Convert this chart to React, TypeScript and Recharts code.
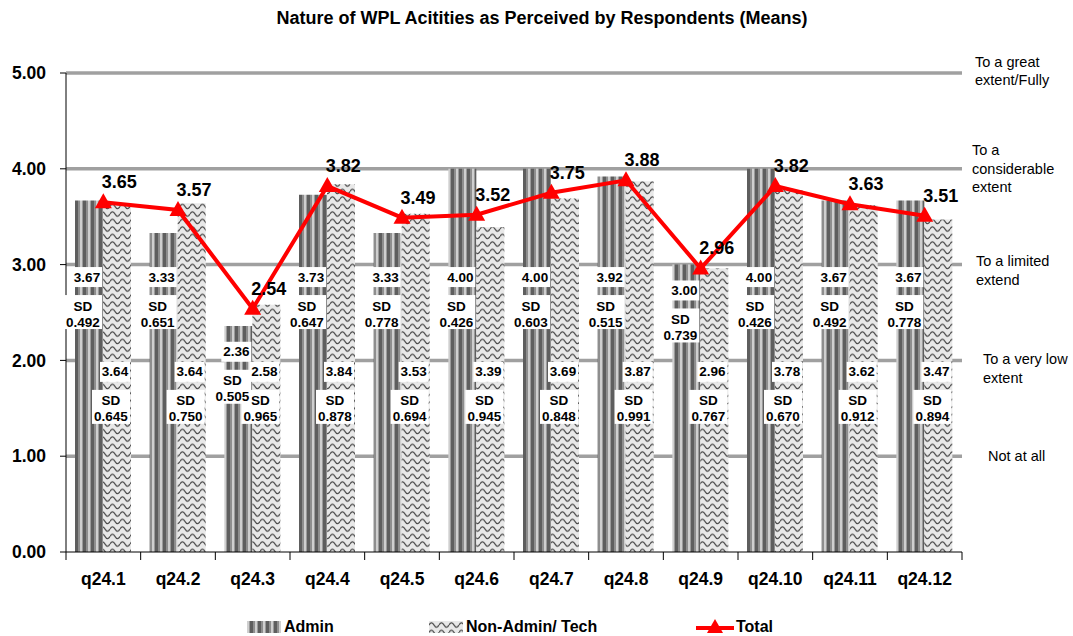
import React from 'react';
import { ComposedChart, Bar, Line, XAxis, YAxis, CartesianGrid, LabelList } from 'recharts';

const categories = ['q24.1', 'q24.2', 'q24.3', 'q24.4', 'q24.5', 'q24.6', 'q24.7', 'q24.8', 'q24.9', 'q24.10', 'q24.11', 'q24.12'];
const adminMeans = [3.67, 3.33, 2.36, 3.73, 3.33, 4.0, 4.0, 3.92, 3.0, 4.0, 3.67, 3.67];
const adminSD = [0.492, 0.651, 0.505, 0.647, 0.778, 0.426, 0.603, 0.515, 0.739, 0.426, 0.492, 0.778];
const nonAdminMeans = [3.64, 3.64, 2.58, 3.84, 3.53, 3.39, 3.69, 3.87, 2.96, 3.78, 3.62, 3.47];
const nonAdminSD = [0.645, 0.75, 0.965, 0.878, 0.694, 0.945, 0.848, 0.991, 0.767, 0.67, 0.912, 0.894];
const totalMeans = [3.65, 3.57, 2.54, 3.82, 3.49, 3.52, 3.75, 3.88, 2.96, 3.82, 3.63, 3.51];
const yTicks = [0, 1, 2, 3, 4, 5];
const scaleTicks = [1, 2, 3, 4, 5];
const scaleLabels: Record<number, string[]> = {
  5: ['To a great', 'extent/Fully'],
  4: ['To a', 'considerable', 'extent'],
  3: ['To a limited', 'extend'],
  2: ['To a very low', 'extent'],
  1: ['Not at all'],
};
const title = 'Nature of WPL Acitities as Perceived by Respondents (Means)';
const seriesNames = ['Admin', 'Non-Admin/ Tech', 'Total'];

const data = categories.map((c, i) => ({
  name: c,
  admin: adminMeans[i],
  nonAdmin: nonAdminMeans[i],
  total: totalMeans[i],
}));

const FONT = '"Liberation Sans", Arial, Helvetica, sans-serif';

// layout tweaks for the right-hand scale captions
const scaleOffsets: Record<number, { dx: number; dy: number }> = {
  5: { dx: 13, dy: -2 },
  4: { dx: 10, dy: 0 },
  3: { dx: 14, dy: 6 },
  2: { dx: 21, dy: 8 },
  1: { dx: 26, dy: 0 },
};

const adminAnchor = (v: number) => Math.min(2.87, v - 0.27);
const nonAdminAnchor = (v: number) => Math.min(1.88, v - 0.5);

const txtStyle = {
  fontFamily: FONT,
  fontWeight: 700,
  fontSize: 13.5,
  fill: '#000',
  textAnchor: 'middle' as const,
  dominantBaseline: 'central' as const,
};

const LabelBox = ({ cx, cy, v, sd }: { cx: number; cy: number; v: number; sd: number }) => (
  <g>
    <rect x={cx - 2 - 15} y={cy - 10} width={30} height={20} fill="#fff" />
    <text x={cx - 2} y={cy} {...txtStyle}>{v.toFixed(2)}</text>
    <rect x={cx - 6 - 19} y={cy + 18} width={38} height={34} fill="#fff" />
    <text x={cx - 6} y={cy + 29} {...txtStyle}>SD</text>
    <text x={cx - 6} y={cy + 45} {...txtStyle}>{sd.toFixed(3)}</text>
  </g>
);

// Drawn from the second bar series so all boxes sit on top of both bars
const barLabels = (props: any) => {
  const { x, y, width, height, value, index } = props;
  const v = Number(value);
  const w = Number(width);
  const bottom = Number(y) + Number(height);
  const ppu = Number(height) / v;
  const nonCx = Number(x) + w / 2;
  const adminCx = nonCx - w;
  const av = adminMeans[index];
  return (
    <g key={`bl-${index}`}>
      <LabelBox cx={nonCx} cy={bottom - nonAdminAnchor(v) * ppu} v={v} sd={nonAdminSD[index]} />
      <LabelBox cx={adminCx} cy={bottom - adminAnchor(av) * ppu} v={av} sd={adminSD[index]} />
    </g>
  );
};

const totalLabel = (p: any) => (
  <text
    key={`tl-${p.index}`}
    x={Number(p.x) + 16}
    y={Number(p.y) - 20}
    textAnchor="middle"
    dominantBaseline="central"
    fontFamily={FONT}
    fontWeight={700}
    fontSize={18}
    fill="#000"
  >
    {Number(p.value).toFixed(2)}
  </text>
);

const triangleDot = (p: any) => {
  const { cx, cy, index } = p;
  if (cx == null || cy == null) return <g key={`td-${index}`} />;
  return <path key={`td-${index}`} d={`M${cx},${cy - 9} L${cx + 8.5},${cy + 6} L${cx - 8.5},${cy + 6} Z`} fill="#ff0000" />;
};

const XTick = (props: any) => {
  const { x, y, payload, index } = props;
  const half = payload && typeof payload.offset === 'number' && payload.offset > 0 ? payload.offset : 37.33;
  const last = index === categories.length - 1;
  return (
    <g>
      <line x1={x - half} x2={x - half} y1={y} y2={y + 8} stroke="#000" strokeWidth={1} />
      {last && <line x1={x + half} x2={x + half} y1={y} y2={y + 8} stroke="#000" strokeWidth={1} />}
      <text x={x} y={y + 27} textAnchor="middle" dominantBaseline="central" fontFamily={FONT} fontWeight={700} fontSize={17.5} fill="#000">
        {payload.value}
      </text>
    </g>
  );
};

const RightTick = (props: any) => {
  const { x, y, payload } = props;
  const v = Number(payload.value);
  const lines = scaleLabels[v] || [];
  const off = scaleOffsets[v] || { dx: 12, dy: 0 };
  const lh = 18.5;
  const start = y + off.dy - ((lines.length - 1) * lh) / 2;
  return (
    <g>
      {lines.map((l, i) => (
        <text key={i} x={x + off.dx} y={start + i * lh} textAnchor="start" dominantBaseline="central" fontFamily={FONT} fontSize={14.5} fill="#000">
          {l}
        </text>
      ))}
    </g>
  );
};

const PatternDefs = () => (
  <defs>
    <pattern id="stripes" patternUnits="userSpaceOnUse" width={8} height={10}>
      <rect x={0} y={0} width={2} height={10} fill="#cfcfcf" />
      <rect x={2} y={0} width={1} height={10} fill="#9a9a9a" />
      <rect x={3} y={0} width={3} height={10} fill="#5e5e5e" />
      <rect x={6} y={0} width={2} height={10} fill="#8e8e8e" />
    </pattern>
    <pattern id="waves" patternUnits="userSpaceOnUse" width={10} height={7.5}>
      <rect x={0} y={0} width={10} height={7.5} fill="#e8e8e8" />
      <path d="M0,4 C1.7,1 3.3,1 5,4 C6.7,7 8.3,7 10,4" fill="none" stroke="#404040" strokeWidth={1.3} />
    </pattern>
  </defs>
);

export default function App() {
  return (
    <div style={{ position: 'absolute', left: 0, top: 0, width: 1073, height: 636, background: '#fff' }}>
      <svg width={0} height={0} style={{ position: 'absolute' }}>
        <PatternDefs />
      </svg>
      <div
        style={{
          position: 'absolute',
          left: 0,
          top: 7,
          width: 1084,
          textAlign: 'center',
          fontFamily: FONT,
          fontWeight: 700,
          fontSize: 18,
          color: '#000',
          lineHeight: '22px',
        }}
      >
        {title}
      </div>
      <ComposedChart
        width={1073}
        height={636}
        data={data}
        margin={{ top: 73, right: 0, bottom: 44, left: 0 }}
        barGap={0}
        barCategoryGap="12.5%"
      >
        <CartesianGrid yAxisId="left" vertical={false} horizontal={true} stroke="#a0a0a0" strokeWidth={3.5} horizontalValues={scaleTicks} />
        <XAxis
          dataKey="name"
          height={40}
          axisLine={{ stroke: '#000', strokeWidth: 1 }}
          tickLine={false}
          tickSize={0}
          tickMargin={0}
          interval={0}
          tick={<XTick />}
        />
        <YAxis
          yAxisId="left"
          domain={[0, 5]}
          ticks={yTicks}
          width={66}
          axisLine={{ stroke: '#000', strokeWidth: 1 }}
          tickLine={{ stroke: '#000', strokeWidth: 1 }}
          tickSize={6}
          tickMargin={14}
          tickFormatter={(v: number) => v.toFixed(2)}
          tick={{ fontFamily: FONT, fontWeight: 700, fontSize: 17.5, fill: '#000' }}
          interval={0}
        />
        <YAxis
          yAxisId="right"
          orientation="right"
          domain={[0, 5]}
          ticks={scaleTicks}
          width={111}
          axisLine={false}
          tickLine={false}
          tickSize={0}
          tickMargin={0}
          interval={0}
          tick={<RightTick />}
        />
        <Bar yAxisId="left" dataKey="admin" name={seriesNames[0]} fill="url(#stripes)" barSize={28} isAnimationActive={false} />
        <Bar yAxisId="left" dataKey="nonAdmin" name={seriesNames[1]} fill="url(#waves)" barSize={28} isAnimationActive={false}>
          <LabelList dataKey="nonAdmin" content={barLabels} />
        </Bar>
        <Line
          yAxisId="right"
          dataKey="total"
          name={seriesNames[2]}
          type="linear"
          stroke="#ff0000"
          strokeWidth={4}
          dot={triangleDot}
          activeDot={false}
          isAnimationActive={false}
        >
          <LabelList dataKey="total" content={totalLabel} />
        </Line>
      </ComposedChart>
      {/* legend */}
      <div style={{ position: 'absolute', left: 0, top: 616, width: 1073, height: 20, fontFamily: FONT, fontWeight: 700, fontSize: 16, color: '#000' }}>
        <svg width={34} height={12} style={{ position: 'absolute', left: 247, top: 5 }}>
          <rect x={0} y={0} width={34} height={12} fill="url(#stripes)" />
        </svg>
        <span style={{ position: 'absolute', left: 284, top: 1, lineHeight: '20px' }}>{seriesNames[0]}</span>
        <svg width={34} height={12} style={{ position: 'absolute', left: 429, top: 5 }}>
          <rect x={0} y={0} width={34} height={12} fill="url(#waves)" />
        </svg>
        <span style={{ position: 'absolute', left: 466, top: 1, lineHeight: '20px' }}>{seriesNames[1]}</span>
        <svg width={38} height={18} style={{ position: 'absolute', left: 696, top: 2 }}>
          <line x1={0} x2={38} y1={10} y2={10} stroke="#ff0000" strokeWidth={4} />
          <path d="M19,1 L27,15 L11,15 Z" fill="#ff0000" />
        </svg>
        <span style={{ position: 'absolute', left: 736, top: 1, lineHeight: '20px' }}>{seriesNames[2]}</span>
      </div>
    </div>
  );
}
